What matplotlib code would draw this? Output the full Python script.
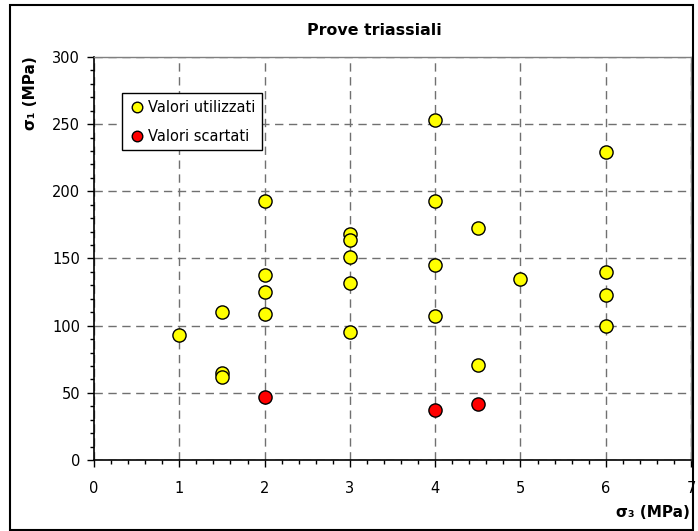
import matplotlib.pyplot as plt
from matplotlib.patches import Rectangle
from matplotlib.ticker import MultipleLocator

# triaxial test results: confining stress s3 vs peak stress s1 (MPa)
s3_used = [1, 1.5, 1.5, 1.5, 2, 2, 2, 2, 3, 3, 3, 3, 3,
           4, 4, 4, 4, 4.5, 4.5, 5, 6, 6, 6, 6]
s1_used = [93, 110, 65, 62, 193, 138, 125, 109, 168, 164, 151, 132, 95,
           253, 193, 145, 107, 173, 71, 135, 229, 140, 123, 100]

s3_rejected = [2, 4, 4.5]
s1_rejected = [47, 37, 42]

plt.rcParams['font.family'] = 'DejaVu Sans'

fig = plt.figure(figsize=(6.98, 5.31), dpi=100)
ax = fig.add_axes([0.1347, 0.1337, 0.8553, 0.759])

ax.plot(s3_used, s1_used, 'o', color='#FFFF00', markeredgecolor='black',
        markeredgewidth=1.0, markersize=9.5, label='Valori utilizzati', zorder=3)
ax.plot(s3_rejected, s1_rejected, 'o', color='#FF0000', markeredgecolor='black',
        markeredgewidth=1.0, markersize=9.5, label='Valori scartati', zorder=3)

ax.set_xlim(0, 7)
ax.set_ylim(0, 300)
ax.xaxis.set_major_locator(MultipleLocator(1))
ax.xaxis.set_minor_locator(MultipleLocator(0.2))
ax.yaxis.set_major_locator(MultipleLocator(50))
ax.yaxis.set_minor_locator(MultipleLocator(10))

ax.tick_params(which='major', direction='out', length=5, width=1, labelsize=10.5, pad=5)
ax.tick_params(which='minor', direction='out', length=3, width=1)
ax.tick_params(axis='x', pad=10)

ax.grid(True, which='major', color='#707070', linestyle=(0, (6, 4)), linewidth=1)
ax.set_axisbelow(True)

for side in ['left', 'bottom']:
    ax.spines[side].set_color('black')
    ax.spines[side].set_linewidth(1.2)
for side in ['top', 'right']:
    ax.spines[side].set_color('#808080')
    ax.spines[side].set_linewidth(1)

fig.text(0.537, 0.9435, 'Prove triassiali', ha='center', va='center',
         fontsize=11.4, fontweight='bold')
fig.text(0.043, 0.825, 'σ₁ (MPa)', ha='center', va='center', rotation=90,
         fontsize=11, fontweight='bold')
fig.text(0.988, 0.035, 'σ₃ (MPa)', ha='right', va='center',
         fontsize=11, fontweight='bold')

leg = ax.legend(loc='upper left', bbox_to_anchor=(0.047, 0.91), fontsize=10.5,
                frameon=True, fancybox=False, edgecolor='black', framealpha=1,
                handletextpad=0.1, handlelength=1.2, borderpad=0.45,
                labelspacing=0.95, borderaxespad=0, markerscale=0.8)
leg.get_frame().set_linewidth(1)

# outer chart border
fig.patches.append(Rectangle((0.0143, 0.002), 0.9787, 0.9886, transform=fig.transFigure,
                             fill=False, edgecolor='black', linewidth=1.5))

fig.savefig('out.png', dpi=100)
